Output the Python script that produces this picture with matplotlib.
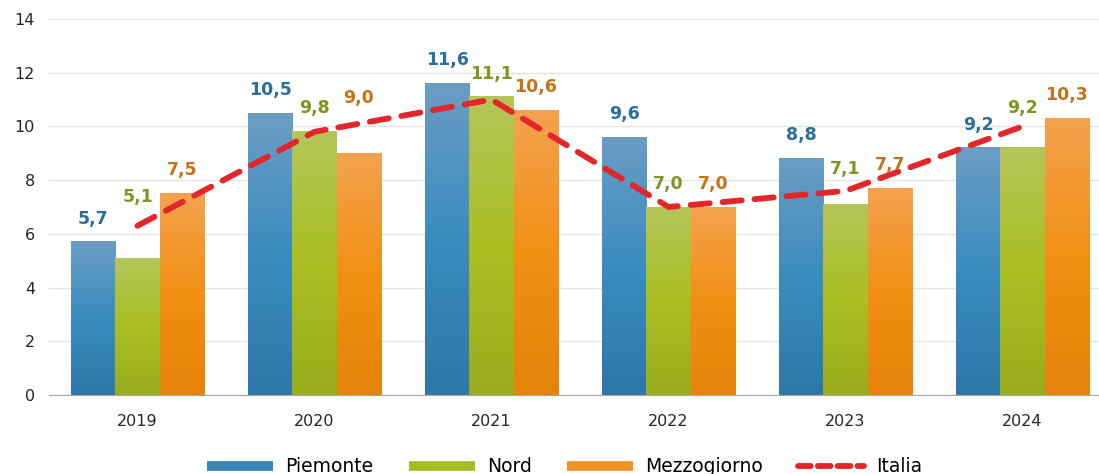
import numpy as np
import matplotlib
matplotlib.use('Agg')
import matplotlib.pyplot as plt
from matplotlib.colors import LinearSegmentedColormap
from matplotlib.lines import Line2D

# data
years = ['2019', '2020', '2021', '2022', '2023', '2024']
piemonte = [5.7, 10.5, 11.6, 9.6, 8.8, 9.2]
nord = [5.1, 9.8, 11.1, 7.0, 7.1, 9.2]
mezzogiorno = [7.5, 9.0, 10.6, 7.0, 7.7, 10.3]
italia = [6.3, 9.8, 11.0, 7.0, 7.6, 10.0]

# extra lift of some labels (as in the original, to dodge the line)
lift_nord = [1.4, 0, 0, 0, 0.45, 0.6]
lift_mezz = [0, 1.2, 0, 0, 0, 0]

plt.rcParams['font.family'] = ['DejaVu Sans']

series = [
    ('Piemonte', piemonte, ['#6B9DC4', '#3A8CBF', '#2E77A8'], '#3A85B8', '#2A6F9C', [0] * 6),
    ('Nord', nord, ['#B5C55A', '#A9BF22', '#9AAC1E'], '#A6BC25', '#7E9620', lift_nord),
    ('Mezzogiorno', mezzogiorno, ['#F5A24F', '#F19014', '#E5830A'], '#F19225', '#C4731A', lift_mezz),
]

fig = plt.figure(figsize=(10.99, 4.74), dpi=100)
ax = fig.add_axes([49 / 1099, 79 / 474, 1050 / 1099, 376 / 474])

x = np.arange(len(years))
w = 0.25
grad = np.linspace(1, 0, 256).reshape(-1, 1)

for k, (name, vals, cols, mid, lab_col, lift) in enumerate(series):
    cmap = LinearSegmentedColormap.from_list(name, cols[::-1])
    for i, v in enumerate(vals):
        x0 = x[i] + (k - 1) * w - w / 2
        ax.imshow(grad, extent=[x0, x0 + w, 0, v], aspect='auto', cmap=cmap,
                  vmin=0, vmax=1, zorder=2, origin='upper')
        ax.text(x[i] + (k - 1) * w, v + 0.87 + lift[i], f'{v:.1f}'.replace('.', ','),
                ha='center', va='center', fontsize=12.5, fontweight='bold',
                color=lab_col, zorder=4)

ax.plot(x, italia, color='#E2262A', lw=4.2, dashes=(3.3, 2.2),
        dash_capstyle='round', zorder=3)

ax.set_xlim(-0.5, -0.5 + 1050 / 177)
ax.set_ylim(0, 14)
ax.set_yticks(range(0, 15, 2))
ax.set_xticks(x)
ax.set_xticklabels(years)
ax.tick_params(length=0, labelsize=11.5, colors='#262626')
ax.tick_params(axis='x', pad=14)
ax.tick_params(axis='y', pad=10)
ax.grid(axis='y', color='#E4E4E4', lw=1, zorder=0)
ax.set_axisbelow(True)
for s in ['left', 'right', 'top']:
    ax.spines[s].set_visible(False)
ax.spines['bottom'].set_color('#A6A6A6')

handles = [Line2D([], [], color=s[3], lw=7, solid_capstyle='butt') for s in series]
handles.append(Line2D([], [], color='#E2262A', lw=4.2, dashes=(2.2, 1.2),
                      dash_capstyle='round'))
fig.legend(handles, [s[0] for s in series] + ['Italia'], loc='lower center',
           bbox_to_anchor=(0.514, -0.04), ncol=4, frameon=False, fontsize=13.5,
           handlelength=3.5, columnspacing=1.9, handletextpad=0.65)

fig.savefig('out.png', dpi=100)
